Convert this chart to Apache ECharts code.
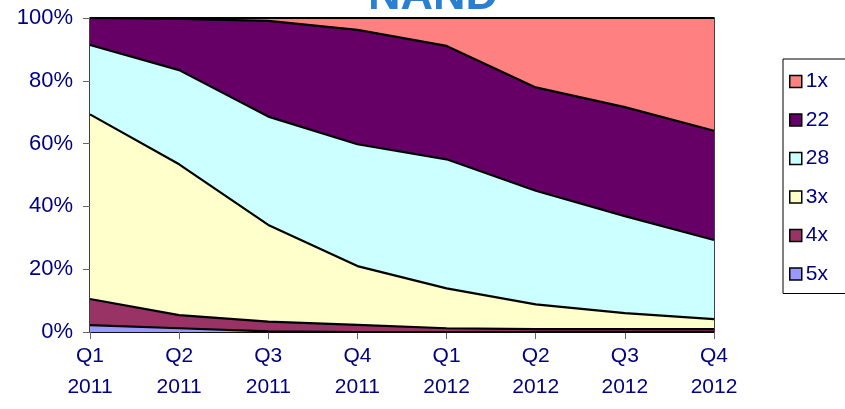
<!DOCTYPE html>
<html>
<head>
<meta charset="utf-8">
<script src="https://cdn.jsdelivr.net/npm/echarts@6/dist/echarts.min.js"></script>
<style>
html,body{margin:0;padding:0;background:#fff;}
#chart{width:845px;height:409px;}
</style>
</head>
<body>
<div id="chart"></div>
<script>
var categories = ['Q1\n2011','Q2\n2011','Q3\n2011','Q4\n2011','Q1\n2012','Q2\n2012','Q3\n2012','Q4\n2012'];
var s5x = [2.2, 1.2, 0.2, 0, 0, 0, 0, 0];
var s4x = [8.3, 4.2, 3.1, 2.3, 1.2, 0.9, 0.9, 0.9];
var s3x = [58.8, 48, 30.8, 18.7, 12.7, 7.9, 5.1, 3.2];
var s28 = [22.1, 30, 34.5, 38.8, 41.1, 36.2, 30.9, 25.2];
var s22 = [8.6, 16.3, 30.5, 36.4, 36.1, 32.9, 34.7, 34.8];
var s1x = [0, 0.3, 0.9, 3.8, 8.9, 22.1, 28.4, 35.9];
var yTicks = [0, 20, 40, 60, 80, 100];

var FONT = 'Liberation Sans, Arial, sans-serif';
var NAVY = '#000080';

function mk(name, data, color) {
  return {
    name: name, type: 'line', stack: 'total', data: data,
    symbol: 'none', smooth: false,
    lineStyle: { color: '#000', width: 2.2 },
    itemStyle: { color: color, borderColor: '#000', borderWidth: 1.5 },
    areaStyle: { color: color, opacity: 1 },
    emphasis: { disabled: true }
  };
}

var chart = echarts.init(document.getElementById('chart'), null, { renderer: 'canvas' });
chart.setOption({
  animation: false,
  title: {
    text: 'NAND', left: 428, textAlign: 'center', top: -31,
    textStyle: { fontFamily: FONT, fontSize: 45, fontWeight: 'bold', color: '#2a7fd0' }
  },
  grid: { left: 90, right: 131, top: 18, bottom: 77, show: true, borderColor: '#000', borderWidth: 1.5, backgroundColor: 'transparent' },
  legend: {
    orient: 'vertical', left: 783, top: 59,
    data: ['1x', '22', '28', '3x', '4x', '5x'],
    icon: 'rect', itemWidth: 12, itemHeight: 12, itemGap: 17.5,
    padding: [12, 80, 9, 6],
    borderColor: '#000', borderWidth: 1,
    itemStyle: { borderColor: '#000', borderWidth: 1.5 },
    textStyle: { fontFamily: FONT, fontSize: 21, color: NAVY, padding: [0, 0, 0, -1] }
  },
  xAxis: {
    type: 'category', data: categories, boundaryGap: false,
    axisLine: { lineStyle: { color: '#000', width: 1.5 } },
    axisTick: { show: true, length: 7, inside: false, lineStyle: { color: '#666' } },
    axisLabel: { fontFamily: FONT, fontSize: 21, color: NAVY, lineHeight: 31, margin: 9, interval: 0 },
    splitLine: { show: false }
  },
  yAxis: {
    type: 'value', min: yTicks[0], max: yTicks[yTicks.length - 1], interval: 20,
    axisLine: { show: true, lineStyle: { color: '#666', width: 1 } },
    axisTick: { show: true, length: 7, inside: false, lineStyle: { color: '#666' } },
    axisLabel: { fontFamily: FONT, fontSize: 22, color: NAVY, margin: 17, formatter: '{value}%' },
    splitLine: { show: false }
  },
  series: [
    mk('5x', s5x, '#9999FF'),
    mk('4x', s4x, '#993366'),
    mk('3x', s3x, '#FFFFCC'),
    mk('28', s28, '#CCFFFF'),
    mk('22', s22, '#660066'),
    mk('1x', s1x, '#FF8080')
  ]
});
</script>
</body>
</html>
